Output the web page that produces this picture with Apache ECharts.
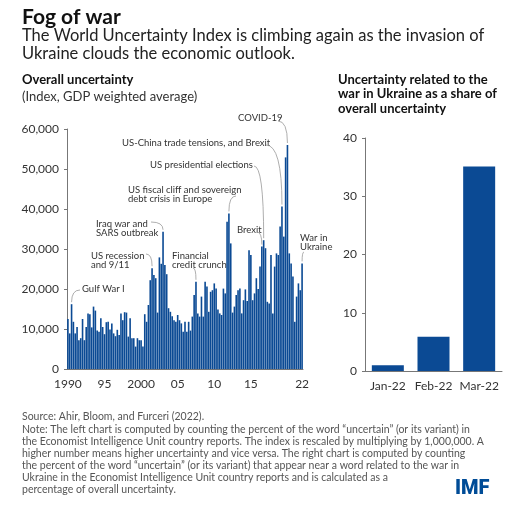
<!DOCTYPE html>
<html>
<head>
<meta charset="utf-8">
<script src="https://cdn.jsdelivr.net/npm/echarts/dist/echarts.min.js"></script>
<style>
  html, body { margin: 0; padding: 0; background: #fff; }
  #main { width: 518px; height: 507px; }
</style>
</head>
<body>
<div id="main"></div>
<script>
// quarterly index, 1990Q1 .. 2022Q1
const startYear = 1990;
const uncertainty = [
    12500, 8900, 16200, 11800,   // 1990
    8900, 10500, 7200, 7700,     // 1991
    12500, 7200, 10500, 13900,   // 1992
    13700, 10400, 15600, 14600,  // 1993
    9600, 9300, 12700, 10500,    // 1994
    8700, 11700, 11800, 9900,    // 1995
    11400, 8900, 8200, 9800,     // 1996
    8500, 13900, 12200, 14200,   // 1997
    14100, 8100, 12700, 7700,    // 1998
    7700, 5600, 7700, 7200,      // 1999
    7200, 5600, 13700, 11800,    // 2000
    16000, 22200, 25200, 23500,  // 2001
    22700, 14100, 27900, 26300,  // 2002
    34300, 26000, 23700, 15200,  // 2003
    14300, 13200, 12200, 11800,  // 2004
    13500, 12200, 11400, 9300,   // 2005
    11800, 9300, 11800, 9600,    // 2006
    13100, 18500, 21800, 13900,  // 2007
    13100, 18100, 13100, 21800,  // 2008
    20600, 14300, 19300, 19700,  // 2009
    21400, 20100, 14900, 13900,  // 2010
    13500, 20100, 18900, 36800,  // 2011
    38900, 31400, 14100, 15600,  // 2012
    18500, 19700, 20100, 13900,  // 2013
    17200, 19900, 17000, 29700,  // 2014
    28500, 17200, 18900, 22700,  // 2015
    20000, 25600, 30600, 32200,  // 2016
    30200, 16800, 16400, 28500,  // 2017
    13900, 25600, 28900, 28500,  // 2018
    35600, 40600, 33100, 52900,  // 2019
    56000, 28900, 26400, 23100,  // 2020
    11800, 18100, 21400, 19700,  // 2021
    26400                        // 2022
];
const yearTicks = ['1990', '95', '2000', '05', '10', '15', '22'];
const tickIndex = [0, 20, 40, 60, 80, 100, 128];

const months = ['Jan-22', 'Feb-22', 'Mar-22'];
const warShare = [1.0, 5.9, 35.1];

// event labels and the quarter they point at
const eventText = [
    'Gulf War I',
    'US recession\nand 9/11',
    'Iraq war and\nSARS outbreak',
    'Financial\ncredit crunch',
    'US fiscal cliff and sovereign\ndebt crisis in Europe',
    'US presidential elections',
    'Brexit',
    'US-China trade tensions, and Brexit',
    'COVID-19',
    'War in\nUkraine'
];
const eventIndex = [2, 46, 52, 70, 88, 107, 106, 117, 120, 128];

const BLUE = '#0b4a94';
const FONT = 'Lato, "Open Sans", sans-serif';

const quarters = [];
for (let i = 0; i < uncertainty.length; i++) {
    quarters.push((startYear + Math.floor(i / 4)) + 'Q' + (i % 4 + 1));
}

const myChart = echarts.init(document.getElementById('main'));

const axisLineStyle = { color: '#777', width: 1 };
const labelStyle = { color: '#333', fontSize: 12, fontFamily: FONT };

const option = {
    animation: false,
    backgroundColor: '#fff',
    grid: [
        { left: 67, right: 215, top: 129, bottom: 138 },
        { left: 365, right: 16, top: 138, bottom: 136 }
    ],
    xAxis: [{
        type: 'category',
        gridIndex: 0,
        data: quarters,
        axisLine: { lineStyle: axisLineStyle },
        axisTick: { show: false },
        axisLabel: Object.assign({
            margin: 9,
            interval: (i) => tickIndex.indexOf(i) >= 0,
            formatter: (v, i) => yearTicks[tickIndex.indexOf(i)]
        }, labelStyle)
    }, {
        type: 'category',
        gridIndex: 1,
        data: months,
        axisLine: { lineStyle: axisLineStyle },
        axisTick: { show: false },
        axisLabel: Object.assign({ margin: 9, interval: 0 }, labelStyle)
    }],
    yAxis: [{
        type: 'value',
        gridIndex: 0,
        min: 0,
        max: 60000,
        interval: 10000,
        axisLine: { show: true, lineStyle: axisLineStyle },
        axisTick: { show: true, length: 3, lineStyle: axisLineStyle },
        splitLine: { show: false },
        axisLabel: Object.assign({
            margin: 8,
            formatter: (v) => v.toLocaleString('en-US')
        }, labelStyle)
    }, {
        type: 'value',
        gridIndex: 1,
        min: 0,
        max: 40,
        interval: 10,
        axisLine: { show: true, lineStyle: axisLineStyle },
        axisTick: { show: true, length: 3, lineStyle: axisLineStyle },
        splitLine: { show: false },
        axisLabel: Object.assign({ margin: 8 }, labelStyle)
    }],
    series: [{
        type: 'bar',
        xAxisIndex: 0,
        yAxisIndex: 0,
        data: uncertainty,
        barCategoryGap: '12%',
        itemStyle: { color: BLUE }
    }, {
        type: 'bar',
        xAxisIndex: 1,
        yAxisIndex: 1,
        data: warShare,
        barWidth: 32,
        itemStyle: { color: BLUE }
    }]
};
myChart.setOption(option);

// header, sub-titles, footnote
const graphics = [];
function txt(x, y, text, size, weight, color, lh) {
    graphics.push({
        type: 'text',
        silent: true,
        style: {
            x: x, y: y, text: text,
            fontSize: size, fontWeight: weight || 'normal',
            fontFamily: FONT, fill: color || '#222',
            lineHeight: lh || Math.round(size * 1.15),
            verticalAlign: 'top'
        }
    });
}
txt(22, 5, 'Fog of war', 21, 'bold', '#111');
txt(22, 27, 'The World Uncertainty Index is climbing again as the invasion of\nUkraine clouds the economic outlook.', 16.5, 'normal', '#222', 17.5);
txt(22, 72, 'Overall uncertainty', 13, 'bold', '#111');
txt(22, 89, '(Index, GDP weighted average)', 13, 'normal', '#333');
txt(338, 72, 'Uncertainty related to the\nwar in Ukraine as a share of\noverall uncertainty', 13, 'bold', '#111', 14.8);
txt(22, 411, 'Source: Ahir, Bloom, and Furceri (2022).\n' +
    'Note: The left chart is computed by counting the percent of the word \u201cuncertain\u201d (or its variant) in\n' +
    'the Economist Intelligence Unit country reports. The index is rescaled by multiplying by 1,000,000. A\n' +
    'higher number means higher uncertainty and vice versa. The right chart is computed by counting\n' +
    'the percent of the word \u201cuncertain\u201d (or its variant) that appear near a word related to the war in\n' +
    'Ukraine in the Economist Intelligence Unit country reports and is calculated as a\n' +
    'percentage of overall uncertainty.', 10.5, 'normal', '#555', 12.1);
graphics.push({
    type: 'text',
    silent: true,
    style: {
        x: 455, y: 479, text: 'IMF',
        fontSize: 20, fontWeight: 900, fontFamily: 'Roboto, sans-serif',
        fill: '#004c97', verticalAlign: 'top'
    }
});

// event annotations: label box position and where the leader line starts
const eventLayout = [
    { x: 82, y: 284, sx: 80, sy: 290 },
    { x: 91, y: 251, sx: 146, sy: 254 },
    { x: 96, y: 219, sx: 151, sy: 222 },
    { x: 172, y: 251, sx: 193, sy: 268 },
    { x: 128, y: 185, sx: 236, sy: 196 },
    { x: 150, y: 160, sx: 254, sy: 166 },
    { x: 237, y: 225, sx: 257, sy: 232 },
    { x: 122, y: 138, sx: 266, sy: 145 },
    { x: 238, y: 113, sx: 278, sy: 121 },
    { x: 300, y: 233, sx: 304, sy: 252 }
];
for (let k = 0; k < eventText.length; k++) {
    const L = eventLayout[k];
    const i = eventIndex[k];
    const p = myChart.convertToPixel({ seriesIndex: 0 }, [i, uncertainty[i]]);
    graphics.push({
        type: 'text',
        silent: true,
        style: {
            x: L.x, y: L.y, text: eventText[k],
            fontSize: 9.5, fontFamily: FONT, fill: '#333',
            lineHeight: 9, verticalAlign: 'top'
        }
    });
    graphics.push({
        type: 'bezierCurve',
        silent: true,
        shape: {
            x1: L.sx, y1: L.sy,
            x2: p[0], y2: p[1] - 2,
            cpx1: p[0], cpy1: L.sy
        },
        style: { stroke: '#999', lineWidth: 0.8, fill: null }
    });
}
myChart.setOption({ graphic: graphics });
</script>
</body>
</html>
